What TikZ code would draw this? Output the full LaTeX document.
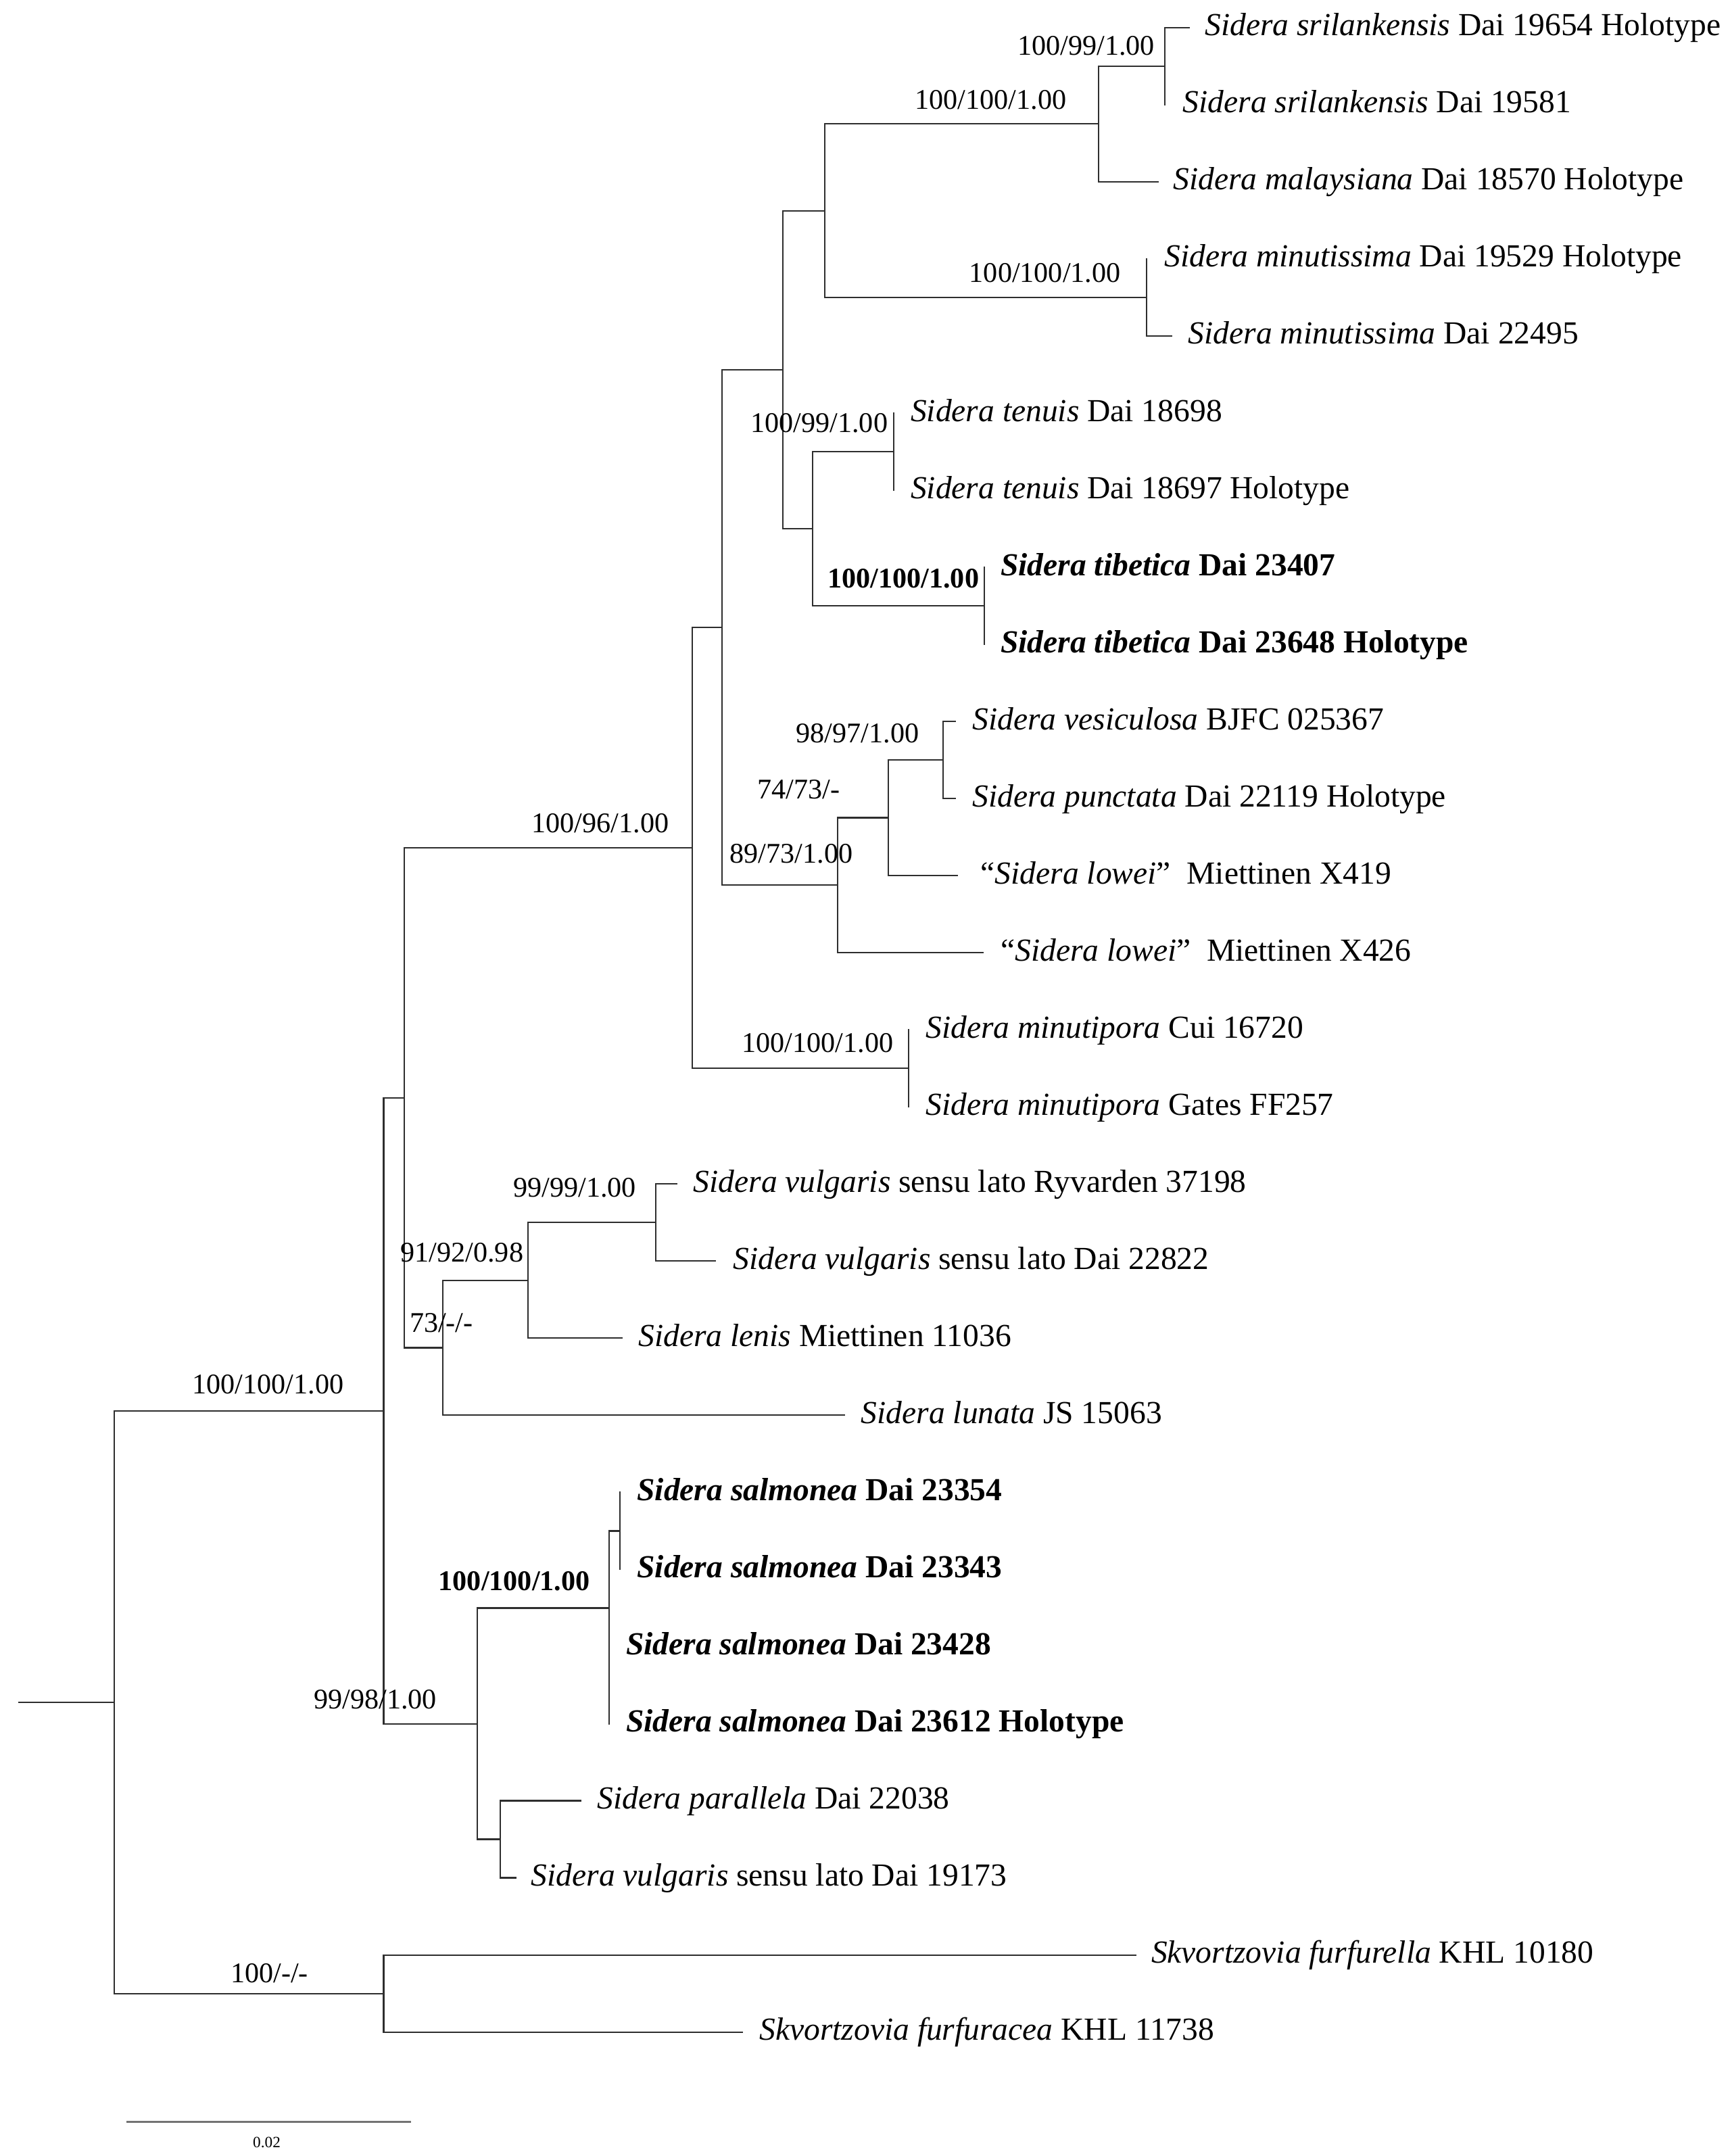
\documentclass[tikz,border=0pt]{standalone}
\usepackage{fontspec}
\setmainfont{Liberation Serif}
\begin{document}
\begin{tikzpicture}[x=0.02cm,y=-0.02cm,
  branch/.style={draw=black!82,line width=0.6pt,line cap=rect},
  leaf/.style={anchor=base west,inner sep=0pt,yshift=-3.4pt,font=\fontsize{13.3}{16}\selectfont},
  support/.style={anchor=center,inner sep=0pt,font=\fontsize{11.8}{14}\selectfont},
  bsupport/.style={support,font=\fontsize{11.8}{14}\selectfont\bfseries}]
\useasboundingbox (0,0) rectangle (1258,1568);
% internal nodes
\coordinate (R0) at (14,1237.9);
\coordinate (R) at (83,1237.9);
\coordinate (Nin) at (279,1026);
\coordinate (Nout) at (279,1449.8);
\coordinate (Nc) at (294,798.4);
\coordinate (N96) at (503.5,616.6);
\coordinate (Nb) at (525,456.3);
\coordinate (Na) at (569.5,268.8);
\coordinate (Ntop) at (600,153.2);
\coordinate (Nsm) at (799,90.1);
\coordinate (Nsri) at (847,48.0);
\coordinate (Nmin) at (834,216.2);
\coordinate (Ntt) at (591,384.5);
\coordinate (Nten) at (650,328.4);
\coordinate (Ntib) at (716,440.5);
\coordinate (N89) at (609,643.8);
\coordinate (N74) at (646,594.7);
\coordinate (Nvp) at (686,552.7);
\coordinate (Nmp) at (661,776.9);
\coordinate (N73) at (322,980.2);
\coordinate (N91) at (384,931.1);
\coordinate (Nvul) at (477,889.1);
\coordinate (N99) at (347,1253.6);
\coordinate (Nsal) at (443,1169.5);
\coordinate (Nsal2) at (451,1113.4);
\coordinate (Nsal3) at (443,1225.5);
\coordinate (Npv) at (364,1337.6);
% tips
\coordinate (t1) at (865,20.0);
\coordinate (t2) at (847,76.07);
\coordinate (t3) at (842,132.14);
\coordinate (t4) at (834,188.21);
\coordinate (t5) at (852,244.28);
\coordinate (t6) at (650,300.35);
\coordinate (t7) at (650,356.42);
\coordinate (t8) at (716,412.49);
\coordinate (t9) at (716,468.56);
\coordinate (t10) at (694.5,524.63);
\coordinate (t11) at (694.5,580.70);
\coordinate (t12) at (696,636.77);
\coordinate (t13) at (715,692.84);
\coordinate (t14) at (661,748.91);
\coordinate (t15) at (661,804.98);
\coordinate (t16) at (492,861.05);
\coordinate (t17) at (520,917.12);
\coordinate (t18) at (452.5,973.19);
\coordinate (t19) at (614,1029.26);
\coordinate (t20) at (451,1085.33);
\coordinate (t21) at (451,1141.40);
\coordinate (t22) at (443,1197.47);
\coordinate (t23) at (443,1253.54);
\coordinate (t24) at (422.5,1309.61);
\coordinate (t25) at (375,1365.68);
\coordinate (t26) at (826,1421.75);
\coordinate (t27) at (539.6,1477.82);
% branches
\draw[branch] (R0) -- (R);
\foreach \p/\c in {R/Nin,R/Nout,Nout/t26,Nout/t27,Nin/Nc,Nin/N99,
  Nc/N96,Nc/N73,N96/Nb,N96/Nmp,Nb/Na,Nb/N89,Na/Ntop,Na/Ntt,
  Ntop/Nsm,Ntop/Nmin,Nsm/Nsri,Nsm/t3,Nsri/t1,Nsri/t2,Nmin/t4,Nmin/t5,
  Ntt/Nten,Ntt/Ntib,Nten/t6,Nten/t7,Ntib/t8,Ntib/t9,
  N89/N74,N89/t13,N74/Nvp,N74/t12,Nvp/t10,Nvp/t11,Nmp/t14,Nmp/t15,
  N73/N91,N73/t19,N91/Nvul,N91/t18,Nvul/t16,Nvul/t17,
  N99/Nsal,N99/Npv,Nsal/Nsal2,Nsal/Nsal3,Nsal2/t20,Nsal2/t21,Nsal3/t22,Nsal3/t23,
  Npv/t24,Npv/t25}
  \draw[branch] (\p) |- (\c);
% leaf labels
\node[leaf] (l1) at (876,20.0) {\textit{Sidera srilankensis} Dai 19654 Holotype};
\node[leaf] (l2) at (860,76.07) {\textit{Sidera srilankensis} Dai 19581};
\node[leaf] (l3) at (853,132.14) {\textit{Sidera malaysiana} Dai 18570 Holotype};
\node[leaf] (l4) at (846.5,188.21) {\textit{Sidera minutissima} Dai 19529 Holotype};
\node[leaf] (l5) at (864,244.28) {\textit{Sidera minutissima} Dai 22495};
\node[leaf] (l6) at (662,300.35) {\textit{Sidera tenuis} Dai 18698};
\node[leaf] (l7) at (662,356.42) {\textit{Sidera tenuis} Dai 18697 Holotype};
\node[leaf,font=\fontsize{13.3}{16}\selectfont\bfseries] (l8) at (727.5,412.49) {\textit{Sidera tibetica} Dai 23407};
\node[leaf,font=\fontsize{13.3}{16}\selectfont\bfseries] (l9) at (727.5,468.56) {\textit{Sidera tibetica} Dai 23648 Holotype};
\node[leaf] (l10) at (707,524.63) {\textit{Sidera vesiculosa} BJFC 025367};
\node[leaf] (l11) at (707,580.70) {\textit{Sidera punctata} Dai 22119 Holotype};
\node[leaf] (l12) at (713,636.77) {“\textit{Sidera lowei}”\ \ Miettinen X419};
\node[leaf] (l13) at (727.5,692.84) {“\textit{Sidera lowei}”\ \ Miettinen X426};
\node[leaf] (l14) at (673,748.91) {\textit{Sidera minutipora} Cui 16720};
\node[leaf] (l15) at (673,804.98) {\textit{Sidera minutipora} Gates FF257};
\node[leaf] (l16) at (504,861.05) {\textit{Sidera vulgaris} sensu lato Ryvarden 37198};
\node[leaf] (l17) at (533,917.12) {\textit{Sidera vulgaris} sensu lato Dai 22822};
\node[leaf] (l18) at (464,973.19) {\textit{Sidera lenis} Miettinen 11036};
\node[leaf] (l19) at (626,1029.26) {\textit{Sidera lunata} JS 15063};
\node[leaf,font=\fontsize{13.3}{16}\selectfont\bfseries] (l20) at (463,1085.33) {\textit{Sidera salmonea} Dai 23354};
\node[leaf,font=\fontsize{13.3}{16}\selectfont\bfseries] (l21) at (463,1141.40) {\textit{Sidera salmonea} Dai 23343};
\node[leaf,font=\fontsize{13.3}{16}\selectfont\bfseries] (l22) at (455,1197.47) {\textit{Sidera salmonea} Dai 23428};
\node[leaf,font=\fontsize{13.3}{16}\selectfont\bfseries] (l23) at (455,1253.54) {\textit{Sidera salmonea} Dai 23612 Holotype};
\node[leaf] (l24) at (434,1309.61) {\textit{Sidera parallela} Dai 22038};
\node[leaf] (l25) at (386,1365.68) {\textit{Sidera vulgaris} sensu lato Dai 19173};
\node[leaf] (l26) at (837,1421.75) {\textit{Skvortzovia furfurella} KHL 10180};
\node[leaf] (l27) at (552,1477.82) {\textit{Skvortzovia furfuracea} KHL 11738};
% support values
\node[support] (s1) at (790,33.4) {100/99/1.00};
\node[support] (s2) at (720.6,72.9) {100/100/1.00};
\node[support] (s3) at (760,198.5) {100/100/1.00};
\node[support] (s4) at (595.8,307.5) {100/99/1.00};
\node[bsupport] (s5) at (657,420.6) {100/100/1.00};
\node[support] (s6) at (623.7,533.6) {98/97/1.00};
\node[support] (s7) at (581,574) {74/73/-};
\node[support] (s8) at (575.5,621) {89/73/1.00};
\node[support] (s9) at (594.7,758.5) {100/100/1.00};
\node[support] (s10) at (436.6,599) {100/96/1.00};
\node[support] (s11) at (418,864) {99/99/1.00};
\node[support] (s12) at (336,911) {91/92/0.98};
\node[support] (s13) at (321,962) {73/-/-};
\node[support] (s14) at (195,1006.7) {100/100/1.00};
\node[bsupport] (s15) at (374,1150) {100/100/1.00};
\node[support] (s16) at (273,1236) {99/98/1.00};
\node[support] (s17) at (196,1435) {100/-/-};
% scale bar
\coordinate (sb1) at (92,1543);
\coordinate (sb2) at (299,1543);
\draw[draw=black!55,line width=0.9pt] (sb1) -- (sb2);
\node[anchor=center,inner sep=0pt,font=\fontsize{6.5}{8}\selectfont] (sbl) at (194,1558) {0.02};
\end{tikzpicture}
\end{document}
